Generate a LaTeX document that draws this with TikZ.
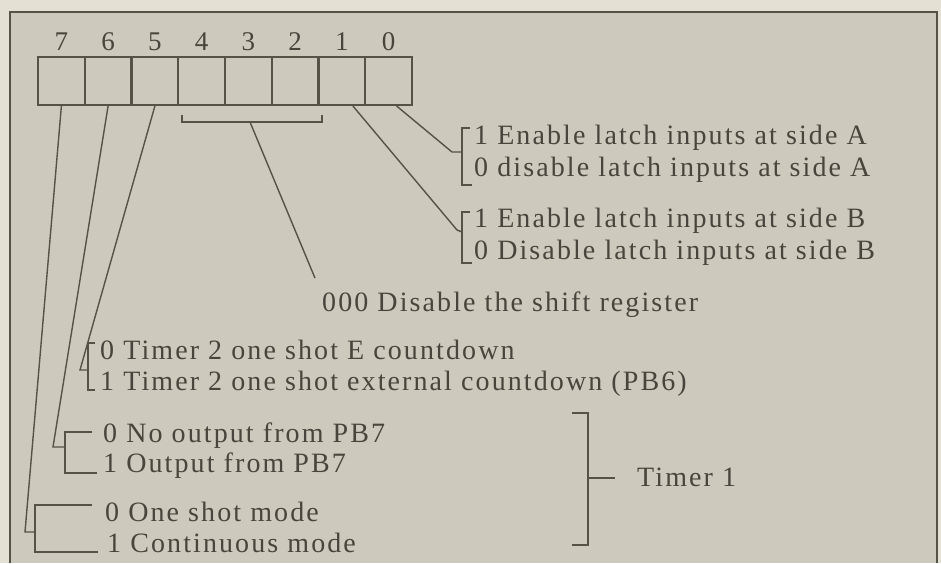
\documentclass[tikz,border=0pt]{standalone}
\usepackage{fontspec}
\setmainfont{Liberation Serif}
\newfontfamily\labelfont{Liberation Serif}[LetterSpace=7.5]
\usetikzlibrary{positioning}

\definecolor{paper}{HTML}{E4E0D3}
\definecolor{panel}{HTML}{CDC9BC}
\definecolor{ink}{HTML}{575247}
\definecolor{print}{HTML}{4A453C}

\begin{document}
\begin{tikzpicture}[
    x=1pt, y=-1pt,
    cell/.style={rectangle, draw=ink, line width=2pt, minimum width=46.75pt, minimum height=48pt, inner sep=0pt},
    bitnum/.style={font=\labelfont\fontsize{27}{27}\selectfont, text=print, inner sep=0pt},
    opt/.style={anchor=base west, inner sep=0pt, font=\labelfont\fontsize{28}{28}\selectfont, text=print},
    wire/.style={draw=ink, line width=1.4pt},
    brace/.style={draw=ink, line width=1.6pt}
]
\useasboundingbox (0,0) rectangle (941,563);

% Background and frame
\fill[paper] (0,0) rectangle (941,563);
\fill[panel] (10,12) rectangle (937,563);
\draw[ink, line width=2pt] (10,563) -- (10,12) -- (937,12) -- (937,563);

% Register cells
\node[cell] (b7) at (61.4,81) {};
\node[cell] (b6) at (108.1,81) {};
\node[cell] (b5) at (154.9,81) {};
\node[cell] (b4) at (201.6,81) {};
\node[cell] (b3) at (248.4,81) {};
\node[cell] (b2) at (295.1,81) {};
\node[cell] (b1) at (341.9,81) {};
\node[cell] (b0) at (388.6,81) {};

% Bit numbers
\node[bitnum, above=5pt of b7] (n7) {7};
\node[bitnum, above=5pt of b6] (n6) {6};
\node[bitnum, above=5pt of b5] (n5) {5};
\node[bitnum, above=5pt of b4] (n4) {4};
\node[bitnum, above=5pt of b3] (n3) {3};
\node[bitnum, above=5pt of b2] (n2) {2};
\node[bitnum, above=5pt of b1] (n1) {1};
\node[bitnum, above=5pt of b0] (n0) {0};

% Option texts
\node[opt] (sideA1) at (474,144) {1 Enable latch inputs at side A};
\node[opt] (sideA0) at (474,176) {0 disable latch inputs at side A};
\node[opt] (sideB1) at (474,227) {1 Enable latch inputs at side B};
\node[opt] (sideB0) at (474,259) {0 Disable latch inputs at side B};
\node[opt] (shiftoff) at (322,311) {000 Disable the shift register};
\node[opt] (timer2e) at (100,359) {0 Timer 2 one shot E countdown};
\node[opt] (timer2x) at (100,390) {1 Timer 2 one shot external countdown (PB6)};
\node[opt] (pb7off) at (103,442) {0 No output from PB7};
\node[opt] (pb7on) at (103,472) {1 Output from PB7};
\node[opt] (oneshot) at (105,521) {0 One shot mode};
\node[opt] (contmode) at (107,552) {1 Continuous mode};
\node[opt] (timer1) at (637,486) {Timer 1};

% Bracket points
\coordinate (midA) at (462,152);
\coordinate (midB) at (462,232);
\coordinate (midShift) at (250,122);
\coordinate (midT2) at (88,370);
\coordinate (midPB7) at (65,447);
\coordinate (midMode) at (35,532);

% Brackets
\draw[brace] (470,128) -- (462,128) -- (462,185) -- (472,185);
\draw[brace] (470,212) -- (462,212) -- (462,263) -- (472,263);
\draw[brace] (182,115) -- (182,122) -- (322,122) -- (322,115);
\draw[brace] (95,343) -- (88,343) -- (88,390) -- (95,390);
\draw[brace] (92,432) -- (65,432) -- (65,473) -- (97,473);
\draw[brace] (92,505) -- (35,505) -- (35,552) -- (98,552);
\draw[brace] (572,413) -- (588,413) -- (588,545) -- (572,545);
\draw[brace] (588,478) -- ([xshift=-22pt]timer1.west |- 588,478);

% Connectors
\draw[wire] ([xshift=8pt]b0.south) -- (452,152) -- (midA);
\draw[wire] ([xshift=11pt]b1.south) -- (457,230) -- (midB);
\draw[wire] (midShift) -- ([xshift=-7pt,yshift=13pt]shiftoff.north west);
\draw[wire] (b5.south) -- (80,370) -- (midT2);
\draw[wire] (b6.south) -- (53,447) -- (midPB7);
\draw[wire] (b7.south) -- (25,532) -- (midMode);

\end{tikzpicture}
\end{document}
